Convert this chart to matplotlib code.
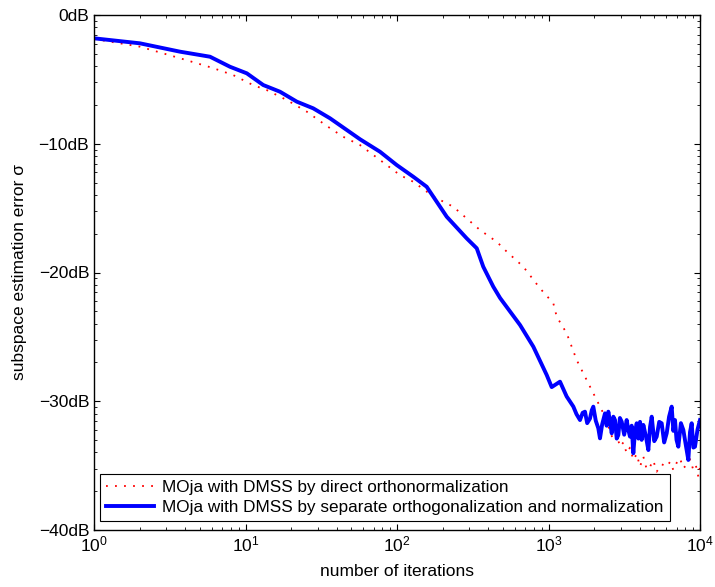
import numpy as np
import matplotlib
matplotlib.use("Agg")
import matplotlib.pyplot as plt
from matplotlib.ticker import FuncFormatter, LogLocator, NullFormatter

# iterations / error (dB)
it_direct = [1, 2.01, 3.70, 6.10, 8.27, 11.2, 13.8, 18.7, 25.4, 34.4, 44.0, 57.0,
             77.2, 104.5, 128, 174, 235, 353, 455, 530, 682, 879, 1076, 1133,
             1318, 1535, 1786, 2080, 2422, 2550, 2679, 2820, 2965, 3120, 3281,
             3450, 3630, 3820, 4018, 4227, 4450, 4677, 4920, 5176, 5600, 6027,
             6350, 6668, 7000, 7378, 7750, 8168, 8600, 9036, 9400, 9750, 10000]
db_direct = [-1.86, -2.46, -3.36, -4.12, -4.66, -5.44, -5.83, -6.60, -7.51, -8.62,
             -9.45, -10.10, -11.26, -12.43, -12.95, -14.1, -14.89, -16.70, -17.61,
             -18.38, -19.55, -21.23, -22.39, -23.43, -24.72, -26.8, -28.35, -29.9,
             -31.46, -32.4, -33.0, -32.6, -33.53, -33.2, -34.04, -33.6, -34.56,
             -34.1, -35.08, -34.3, -35.3, -35.08, -34.6, -35.47, -34.9, -35.08,
             -34.7, -35.34, -34.8, -34.43, -35.2, -34.95, -34.5, -35.34, -35.0,
             -35.86, -35.08]

it_sep = [1, 2.01, 3.70, 5.83, 7.90, 10.2, 13.1, 16.9, 21.8, 28.0, 36.1, 46.6,
          57.0, 77.2, 99.5, 128, 157, 213, 288, 336, 371, 432, 479, 649, 794,
          973, 1050, 1191, 1318, 1458, 1530, 1614, 1680, 1741, 1800, 1879, 1930,
          1976, 2050, 2132, 2187, 2260, 2360, 2420, 2483, 2550, 2614, 2680, 2748,
          2820, 2891, 2960, 3042, 3160, 3281, 3360, 3451, 3540, 3630, 3720, 3822,
          3920, 4020, 4120, 4227, 4390, 4561, 4680, 4800, 4990, 5176, 5380, 5585,
          5800, 6027, 6250, 6502, 6670, 6839, 7000, 7194, 7480, 7762, 8060, 8375,
          8590, 8812, 9040, 9265, 9630, 10000]
db_sep = [-1.81, -2.20, -2.85, -3.24, -4.02, -4.53, -5.44, -5.96, -6.73, -7.25,
          -8.02, -8.93, -9.65, -10.62, -11.65, -12.56, -13.34, -15.67, -17.34,
          -18.12, -19.55, -21.1, -21.98, -24.08, -25.76, -27.96, -28.9, -28.48,
          -29.63, -30.41, -31.0, -31.46, -30.9, -30.81, -31.7, -31.34, -30.7,
          -30.42, -31.5, -32.1, -32.88, -31.8, -30.94, -31.9, -30.81, -31.6,
          -32.49, -31.2, -31.46, -32.9, -32.62, -31.3, -31.59, -32.6, -31.46,
          -32.2, -32.75, -31.9, -34.04, -32.4, -31.71, -32.9, -31.6, -33.0,
          -31.84, -32.7, -33.79, -32.0, -31.2, -33.1, -32.75, -31.6, -31.71,
          -33.2, -32.49, -31.2, -30.42, -32.3, -31.46, -33.0, -33.53, -31.7,
          -32.23, -33.4, -34.56, -32.4, -31.71, -33.6, -33.53, -32.2, -31.46]

labels = ["MOja with DMSS by direct orthonormalization",
          "MOja with DMSS by separate orthogonalization and normalization"]

plt.rcParams['font.family'] = ['Liberation Sans', 'DejaVu Sans']
plt.rcParams['font.size'] = 12.5

fig = plt.figure(figsize=(7.15, 5.87), dpi=100)
ax = fig.add_axes([94/715, 1-530/587, 606/715, 515/587])

ax.plot(it_direct, 10**(np.array(db_direct)/10), color='red', ls=(0, (1, 4)),
        lw=1.3, label=labels[0])
ax.plot(it_sep, 10**(np.array(db_sep)/10), color='blue', lw=2.8, label=labels[1])

ax.set_xscale('log')
ax.set_yscale('log')
ax.set_xlim(1, 1e4)
ax.set_ylim(1e-4, 1)
ax.yaxis.set_major_locator(LogLocator(base=10, numticks=10))
ax.yaxis.set_minor_locator(LogLocator(base=10, subs=np.arange(2, 10), numticks=20))
ax.yaxis.set_minor_formatter(NullFormatter())
ax.yaxis.set_major_formatter(FuncFormatter(
    lambda v, p: f"{10*np.log10(v):.0f}dB".replace('-', '\u2212')))
ax.tick_params(which='both', direction='in', top=True, right=True, labelsize=12.5)
ax.tick_params(which='major', length=4)
ax.tick_params(which='minor', length=2.5)
for s in ax.spines.values():
    s.set_linewidth(1.0)

ax.set_xlabel("number of iterations", fontsize=12.5, labelpad=7)
ax.set_ylabel("subspace estimation error \u03c3", fontsize=12.5, labelpad=8)

leg = ax.legend(loc='lower left', bbox_to_anchor=(0.0099, 0.0175), borderaxespad=0,
                fancybox=False, framealpha=1, edgecolor='black', handlelength=2.8,
                borderpad=0.35, labelspacing=0.28, handletextpad=0.5, fontsize=12.3)
leg.get_frame().set_linewidth(0.8)

fig.savefig("out.png", dpi=100)
